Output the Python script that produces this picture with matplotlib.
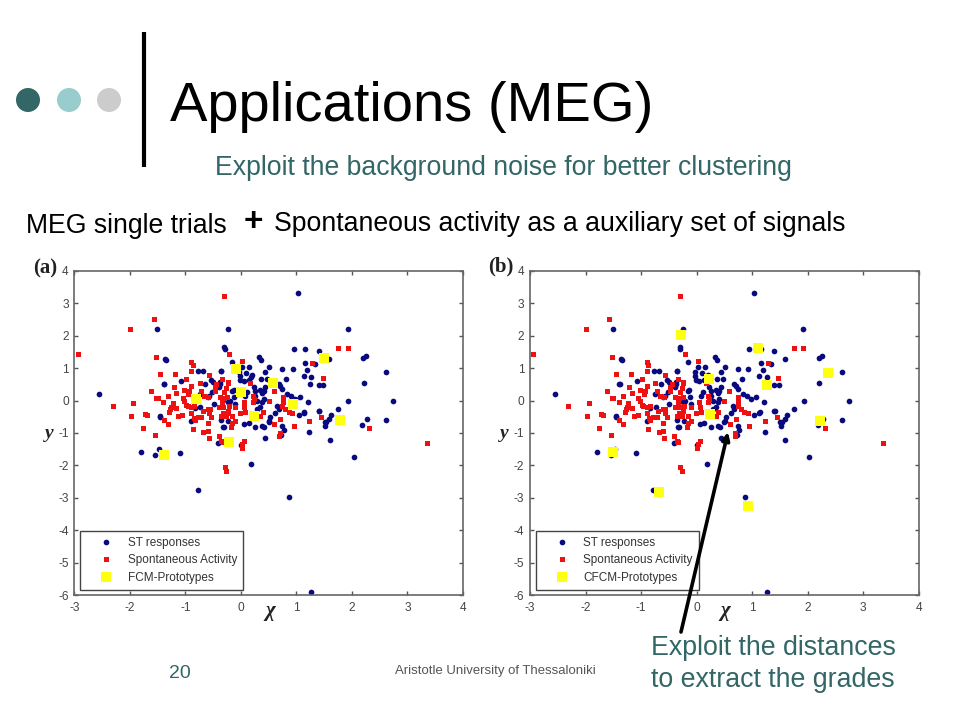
import matplotlib
matplotlib.use("Agg")
import matplotlib.pyplot as plt
from matplotlib.patches import Circle

plt.rcParams['font.family'] = ['Liberation Sans', 'DejaVu Sans']
plt.rcParams['axes.unicode_minus'] = False

st_x = [-0.30,-0.29,0.33,0.36,-0.16,0.95,1.16,1.40,1.59,1.34,1.19,1.16,1.13,1.26,0.93,0.74,0.51,0.44,0.15,0.02,-0.03,0.10,
        -0.01,0.05,0.20,0.18,0.14,0.36,0.47,0.81,1.25,1.40,1.48,-0.36,-0.13,-0.16,0.23,0.26,0.35,0.44,0.41,0.38,0.68,0.71,
        0.74,0.83,0.90,0.98,1.07,1.21,-0.375,-0.12,-0.20,-0.10,0.08,0.11,0.26,0.29,0.41,0.38,0.35,0.29,0.65,0.68,0.62,0.53,
        0.51,0.50,0.38,0.42,0.26,0.14,0.06,-0.33,1.04,1.14,1.13,1.40,1.53,1.52,1.23,0.74,0.77,0.44,0.72,
        1.03,-0.24,-1.51,1.92,-1.36,2.20,2.25,2.61,2.21,1.93,2.74,1.75,-2.55,-1.39,-1.45,2.27,2.62,2.19,1.60,1.51,1.63,1.59,1.41,
        -1.79,-1.54,-1.47,-1.09,-0.41,0.01,0.19,2.03,-0.78,0.87,1.27,
        -1.35,-0.77,-0.68,-0.36,-1.38,-1.08,-0.53,-0.50,-0.64,-0.37,-0.39,-0.52,-0.57,-0.60,-0.74,-0.49,-0.32,-0.24,-0.83,-0.73,
        -1.45,-0.90,-0.36,-0.23,-0.31,-0.02]
st_y = [1.64,1.60,1.33,1.26,1.18,1.58,1.58,1.52,1.29,1.14,0.94,1.15,0.77,0.74,0.96,0.96,1.04,0.88,1.03,1.03,0.87,0.85,
        0.63,0.61,0.79,0.72,0.63,0.65,0.67,0.65,0.51,0.47,0.47,0.92,0.32,0.28,0.41,0.30,0.32,0.41,0.30,0.22,0.51,0.44,
        0.36,0.20,0.15,0.05,0.10,-0.03,0.56,0.10,0.0,-0.10,0.15,0.25,0.15,0.0,0.05,-0.06,-0.21,-0.26,-0.16,-0.26,-0.38,-0.52,
        -0.62,-0.65,-0.78,-0.83,-0.81,-0.68,-0.73,-0.81,-0.44,-0.34,-0.39,-0.33,-0.65,-0.79,-0.96,-0.79,-0.91,-1.14,-1.07,
        3.30,2.21,2.21,2.21,1.27,1.32,1.36,0.89,0.54,0.0,-0.02,-0.27,0.21,0.51,-0.49,-0.56,-0.59,-0.76,-1.23,-0.65,-0.46,-0.57,-0.32,
        -1.60,-1.68,-1.50,-1.63,-1.32,-1.36,-1.94,-1.74,-2.76,-2.97,-5.91,
        1.26,0.91,0.91,0.91,0.50,0.59,0.63,0.56,0.50,0.51,0.43,0.25,0.15,0.12,0.20,-0.11,0.01,-0.03,-0.24,-0.19,
        -0.50,-0.64,-0.60,-0.62,-0.83,0.77]

sa_x = [-1.53,-0.89,-0.87,-1.45,-1.19,-0.90,-0.57,-0.98,-1.21,-0.74,-1.62,-1.32,-1.17,-1.02,-0.90,-0.93,-0.95,-0.47,-0.44,-0.24,-0.27,-0.30,
        -1.94,-1.53,-1.50,-1.40,-1.05,-1.02,-1.23,-1.26,-1.28,-1.29,-1.16,-0.99,-0.96,-0.90,-0.84,-0.90,-0.71,-0.66,-0.47,-0.59,-0.38,-0.32,
        -1.98,-1.73,-1.69,-1.13,-1.06,-0.85,-0.78,-0.71,-0.83,-0.69,-0.60,-0.56,-0.57,-0.54,-0.60,-0.39,-0.32,-0.24,-0.26,-0.35,-1.39,-1.32,
        -1.76,-0.87,-0.68,-0.60,-1.55,-0.58,-0.40,-0.33,
        -0.21,0.02,1.28,1.47,-0.24,0.17,-0.34,0.59,0.50,0.21,0.23,0.21,0.05,0.06,0.75,0.75,0.74,0.80,0.86,0.92,0.39,0.35,-0.34,-0.25,-0.32,-0.22,
        -0.10,-0.255,-0.16,-0.01,0.08,-0.105,-0.16,-0.18,0.60,0.71,0.95,1.23,1.45,2.31,0.70,0.69,-0.35,0.06,0.02,0.015,
        -0.30,-1.57,-2.00,-2.94,1.75,1.92,3.35,-2.31,-0.29,-0.27]
sa_y = [1.35,1.18,1.10,0.82,0.82,0.91,0.80,0.65,0.41,0.53,0.29,0.15,0.24,0.32,0.44,0.30,0.20,0.41,0.51,0.56,0.39,0.25,
        -0.09,0.09,0.08,-0.06,0.08,-0.01,-0.09,-0.19,-0.26,-0.35,-0.24,-0.13,-0.18,-0.21,-0.18,-0.37,0.30,0.15,0.30,0.10,0.10,0.08,
        -0.47,-0.40,-0.44,-0.47,-0.44,-0.53,-0.50,-0.52,-0.60,-0.31,-0.26,-0.26,-0.37,-0.52,-0.70,-0.19,-0.37,-0.31,-0.47,-0.47,-0.60,-0.73,
        -0.85,-0.88,-0.96,-0.93,-1.06,-1.16,-1.09,-1.29,
        1.44,1.23,1.15,0.70,0.55,0.55,0.66,0.30,0.00,0.15,0.05,-0.06,-0.06,-0.21,0.10,-0.03,-0.16,-0.26,-0.34,-0.37,-0.34,-0.47,-0.06,0.10,-0.21,-0.16,
        -0.21,-0.37,-0.47,-0.39,-0.35,-0.62,-0.68,-0.83,-0.71,-0.58,-0.79,-0.63,-0.50,-0.85,-1.00,-1.10,-1.24,-1.24,-1.35,-1.47,
        3.21,2.50,2.21,1.44,1.62,1.62,-1.32,-0.18,-2.04,-2.18]

fcm_x = [-0.08,0.01,0.57,-0.80,0.93,0.24,1.50,1.78,-0.21,-1.39]
fcm_y = [0.98,0.26,0.54,0.05,-0.11,-0.48,1.32,-0.61,-1.29,-1.67]
cfcm_x = [-0.28,1.11,2.37,1.26,0.22,0.24,2.22,-1.50,-0.68,0.92]
cfcm_y = [2.03,1.62,0.86,0.49,0.65,-0.42,-0.64,-1.58,-2.83,-3.25]

x_ticks = [-3,-2,-1,0,1,2,3,4]
y_ticks = [4,3,2,1,0,-1,-2,-3,-4,-5,-6]
legend_labels = ['ST responses', 'Spontaneous Activity']

W, H = 960, 720
fig = plt.figure(figsize=(9.6, 7.2), dpi=100, facecolor='white')

def panel(left, right, top, bottom, px, py, proto_label):
    ax = fig.add_axes([left/W, 1-bottom/H, (right-left)/W, (bottom-top)/H])
    ax.plot(st_x, st_y, 'o', color='#0a0a80', ms=4.1, mew=0, label=legend_labels[0], clip_on=False)
    ax.plot(sa_x, sa_y, 's', color='#ee1111', ms=3.6, mew=0, label=legend_labels[1], clip_on=False)
    ax.plot(px, py, 's', color='#ffff10', ms=7.2, mew=0, label=proto_label, clip_on=False)
    ax.set_xlim(-3, 4)
    ax.set_ylim(-6, 4)
    ax.set_xticks(x_ticks)
    ax.set_yticks(y_ticks)
    ax.tick_params(direction='in', top=True, right=True, length=3, width=1, color='#555555',
                   labelcolor='#444444', labelsize=8.6, pad=5)
    ax.tick_params(axis='y', pad=4)
    for s in ax.spines.values():
        s.set_color('#666666')
        s.set_linewidth(1.2)
    leg = ax.legend(loc='lower left', bbox_to_anchor=(6/(right-left), 5.5/(bottom-top)),
                    fontsize=8.5, frameon=True, fancybox=False, framealpha=1, edgecolor='#444444',
                    borderaxespad=0, handlelength=3.4, handletextpad=0.1, labelspacing=0.47,
                    borderpad=0.5, labelcolor='#333333', numpoints=1)
    leg.get_frame().set_linewidth(1.0)
    return ax

panel(74.3, 463, 270.7, 595.3, fcm_x, fcm_y, 'FCM-Prototypes')
panel(530, 918.7, 270.7, 595.3, cfcm_x, cfcm_y, 'CFCM-Prototypes')

ov = fig.add_axes([0, 0, 1, 1], facecolor='none')
ov.set_xlim(0, W)
ov.set_ylim(H, 0)
ov.axis('off')

for cx, col in zip([28, 69, 109], ['#336666', '#99cccc', '#cccccc']):
    ov.add_patch(Circle((cx, 100), 12, color=col, lw=0))
ov.plot([144, 144], [32, 167], color='black', lw=3, solid_capstyle='butt')
ov.annotate('', xy=(728, 432), xytext=(681, 632),
            arrowprops=dict(arrowstyle='-|>,head_length=0.45,head_width=0.22', color='black', lw=2.6,
                            shrinkA=0, shrinkB=0))

teal = '#336666'
ov.text(170, 121, 'Applications (MEG)', fontsize=40.4, color='black', va='baseline', ha='left')
ov.text(215, 175, 'Exploit the background noise for better clustering', fontsize=19.2, color=teal, va='baseline')
ov.text(26, 233, 'MEG single trials', fontsize=19.2, color='black', va='baseline')
ov.text(253, 223, '+', fontsize=24, color='black', va='center', ha='center', fontweight='bold')
ov.text(274, 231, 'Spontaneous activity as a auxiliary set of signals', fontsize=19.2, color='black', va='baseline')
ov.text(651, 655, 'Exploit the distances', fontsize=19.3, color=teal, va='baseline')
ov.text(651, 687, 'to extract the grades', fontsize=19.3, color=teal, va='baseline')
ov.text(180, 678, '20', fontsize=14, color='#336666', va='baseline', ha='center')
ov.text(395, 674, 'Aristotle University of Thessaloniki', fontsize=9.45, color='#555555', va='baseline', ha='left')

serif = ['Liberation Serif', 'DejaVu Serif']
for x, y, s in [(45, 268, '(a)'), (501, 266, '(b)')]:
    ov.text(x, y, s, fontsize=15, family=serif, fontweight='bold', color='#222222', va='center', ha='center')
for x, y in [(49, 434), (504, 434)]:
    ov.text(x, y, 'y', fontsize=14, family=serif, fontweight='bold', style='italic', color='#222222', va='center', ha='center')
for x, y in [(270, 611), (725, 611)]:
    ov.text(x, y, 'χ', fontsize=15, family=serif, fontweight='bold', style='italic', color='#222222', va='center', ha='center')

fig.savefig('out.png', dpi=100)
